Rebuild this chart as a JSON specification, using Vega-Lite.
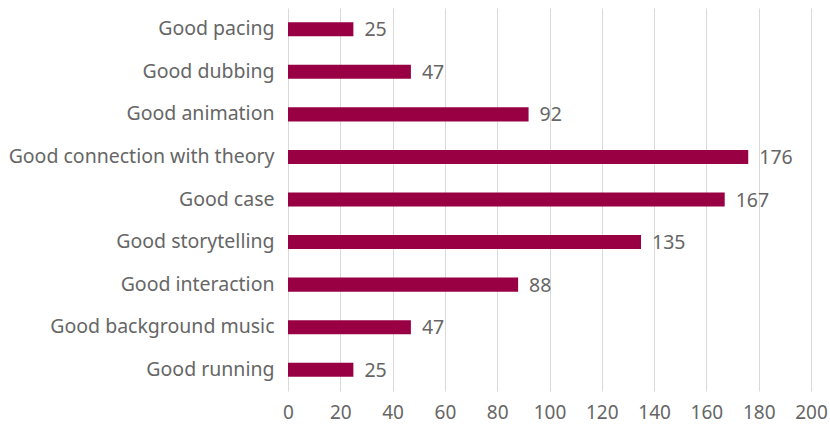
{
  "$schema": "https://vega.github.io/schema/vega-lite/v6.json",
  "autosize": "none",
  "width": 523,
  "height": 383,
  "padding": {"left": 288, "top": 8, "right": 19, "bottom": 38},
  "background": "white",
  "config": {
    "view": {"stroke": null},
    "font": "Noto Sans",
    "axis": {"labelFont": "Noto Sans", "labelColor": "#666666", "labelFontSize": 19.5}
  },
  "data": {
    "values": [
      {"feature": "Good pacing", "count": 25},
      {"feature": "Good dubbing", "count": 47},
      {"feature": "Good animation", "count": 92},
      {"feature": "Good connection with theory", "count": 176},
      {"feature": "Good case", "count": 167},
      {"feature": "Good storytelling", "count": 135},
      {"feature": "Good interaction", "count": 88},
      {"feature": "Good background music", "count": 47},
      {"feature": "Good running", "count": 25}
    ]
  },
  "encoding": {
    "y": {
      "field": "feature",
      "type": "nominal",
      "sort": null,
      "title": null,
      "scale": {"paddingInner": 0.67, "paddingOuter": 0.335},
      "axis": {"domain": false, "ticks": false, "labelPadding": 14, "grid": false, "labelLimit": 300}
    },
    "x": {
      "field": "count",
      "type": "quantitative",
      "title": null,
      "scale": {"domain": [0, 200], "nice": false},
      "axis": {"values": [0, 20, 40, 60, 80, 100, 120, 140, 160, 180, 200], "labelFontSize": 19, "domain": false, "ticks": false, "labelPadding": 12, "labelFlush": false, "labelBound": false, "labelOverlap": false, "grid": true, "gridColor": "#d9d9d9", "gridWidth": 1}
    }
  },
  "layer": [
    {"mark": {"type": "bar", "color": "#990044"}},
    {
      "mark": {"type": "text", "align": "left", "baseline": "middle", "dx": 11, "dy": 1, "fontSize": 19.5, "font": "Noto Sans", "color": "#666666"},
      "encoding": {"text": {"field": "count", "type": "quantitative"}}
    }
  ]
}
